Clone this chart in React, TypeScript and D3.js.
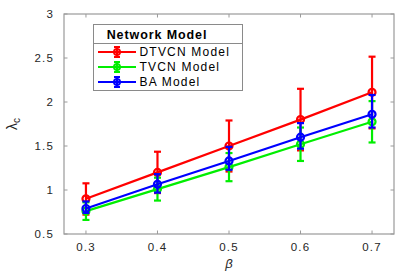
import * as React from 'react'
import * as d3 from 'd3'

const betas = [0.3, 0.4, 0.5, 0.6, 0.7]
const yTicks = [0.5, 1, 1.5, 2, 2.5, 3]

// DTVCN
const dtvcnMean = [0.9, 1.2, 1.5, 1.8, 2.11]
const dtvcnLow = [0.72, 0.965, 1.21, 1.45, 1.7]
const dtvcnHigh = [1.076, 1.435, 1.79, 2.15, 2.515]
// TVCN
const tvcnMean = [0.76, 1.01, 1.26, 1.52, 1.775]
const tvcnLow = [0.66, 0.88, 1.1, 1.33, 1.54]
const tvcnHigh = [0.86, 1.14, 1.42, 1.71, 2.01]
// BA
const baMean = [0.79, 1.065, 1.33, 1.6, 1.86]
const baLow = [0.74, 0.97, 1.23, 1.47, 1.71]
const baHigh = [0.87, 1.18, 1.49, 1.76, 2.08]

const seriesNames = ['DTVCN Model', 'TVCN Model', 'BA Model']
const colors = ['#ff0000', '#00ee00', '#0000ff']

const W = 415
const H = 277
const margin = { left: 64, top: 14, right: 21, bottom: 43 }
const font = '"Liberation Sans", Arial, sans-serif'
const axisColor = '#9a9a9a'
const textColor = '#262626'

export default function App() {
    const x = d3.scaleLinear().domain([0.2693, 0.7307]).range([margin.left, W - margin.right])
    const y = d3.scaleLinear().domain([0.5, 3]).range([H - margin.bottom, margin.top])
    const line = d3.line<number>().x((_, i) => x(betas[i])).y(d => y(d))

    const series = [
        { mean: dtvcnMean, low: dtvcnLow, high: dtvcnHigh },
        { mean: tvcnMean, low: tvcnLow, high: tvcnHigh },
        { mean: baMean, low: baLow, high: baHigh },
    ]
    const cap = 3.5
    const x0 = margin.left, x1 = W - margin.right
    const y0 = H - margin.bottom, y1 = margin.top

    return <svg width={W} height={H} style={{ position: 'absolute', left: 0, top: 0, background: '#fff' }}>
        {/* frame */}
        <rect x={x0} y={y1} width={x1 - x0} height={y0 - y1} fill='white' stroke={axisColor} strokeWidth={1.2} />
        {betas.map(b => <g key={'xt' + b}>
            <line x1={x(b)} x2={x(b)} y1={y0} y2={y0 - 3.5} stroke={axisColor} />
            <line x1={x(b)} x2={x(b)} y1={y1} y2={y1 + 3.5} stroke={axisColor} />
            <text x={x(b)} y={y0 + 17} textAnchor='middle' fontFamily={font} fontSize={11.5}
                letterSpacing={1.2} fill={textColor}>{b.toFixed(1)}</text>
        </g>)}
        {yTicks.map(t => <g key={'yt' + t}>
            <line x1={x0} x2={x0 + 3.5} y1={y(t)} y2={y(t)} stroke={axisColor} />
            <line x1={x1} x2={x1 - 3.5} y1={y(t)} y2={y(t)} stroke={axisColor} />
            <text x={x0 - 10} y={y(t) + 4} textAnchor='end' fontFamily={font} fontSize={11.5}
                letterSpacing={1.2} fill={textColor}>{String(t)}</text>
        </g>)}
        {/* axis labels */}
        <text x={229} y={268} textAnchor='middle' fontFamily={font} fontStyle='italic'
            fontSize={13} fill={textColor}>β</text>
        <text transform={`translate(17, 124) rotate(-90)`} textAnchor='middle' fontFamily={font}
            fontSize={14} fill={textColor}>λ<tspan fontSize={10} dy={3}>c</tspan></text>

        {/* series */}
        {series.map((s, si) => <g key={'s' + si} stroke={colors[si]} strokeWidth={2.2} fill='none'>
            <path d={line(s.mean) || ''} />
            {betas.map((b, i) => <g key={i}>
                <line x1={x(b)} x2={x(b)} y1={y(s.low[i])} y2={y(s.high[i])} />
                <line x1={x(b) - cap} x2={x(b) + cap} y1={y(s.low[i])} y2={y(s.low[i])} />
                <line x1={x(b) - cap} x2={x(b) + cap} y1={y(s.high[i])} y2={y(s.high[i])} />
                <circle cx={x(b)} cy={y(s.mean[i])} r={3.5} />
            </g>)}
        </g>)}

        {/* legend */}
        <g>
            <rect x={93.5} y={24.5} width={149} height={66} fill='white' stroke='#8a8a8a' strokeWidth={1} />
            <line x1={93.5} x2={242.5} y1={43.5} y2={43.5} stroke='#8a8a8a' strokeWidth={1} />
            <text x={157} y={38.5} textAnchor='middle' fontFamily={font} fontWeight='bold'
                fontSize={12.5} letterSpacing={0.9} fill='#000'>Network Model</text>
            {seriesNames.map((n, i) => {
                const ly = 52 + i * 15
                return <g key={n}>
                    <g stroke={colors[i]} strokeWidth={2} fill='none'>
                        <line x1={98} x2={136} y1={ly} y2={ly} />
                        <line x1={117} x2={117} y1={ly - 5} y2={ly + 5} />
                        <line x1={114} x2={120} y1={ly - 5} y2={ly - 5} />
                        <line x1={114} x2={120} y1={ly + 5} y2={ly + 5} />
                        <circle cx={117} cy={ly} r={3} />
                    </g>
                    <text x={139.5} y={ly + 4.3} fontFamily={font} fontSize={12}
                        letterSpacing={1.2} fill='#000'>{n}</text>
                </g>
            })}
        </g>
    </svg>
}
